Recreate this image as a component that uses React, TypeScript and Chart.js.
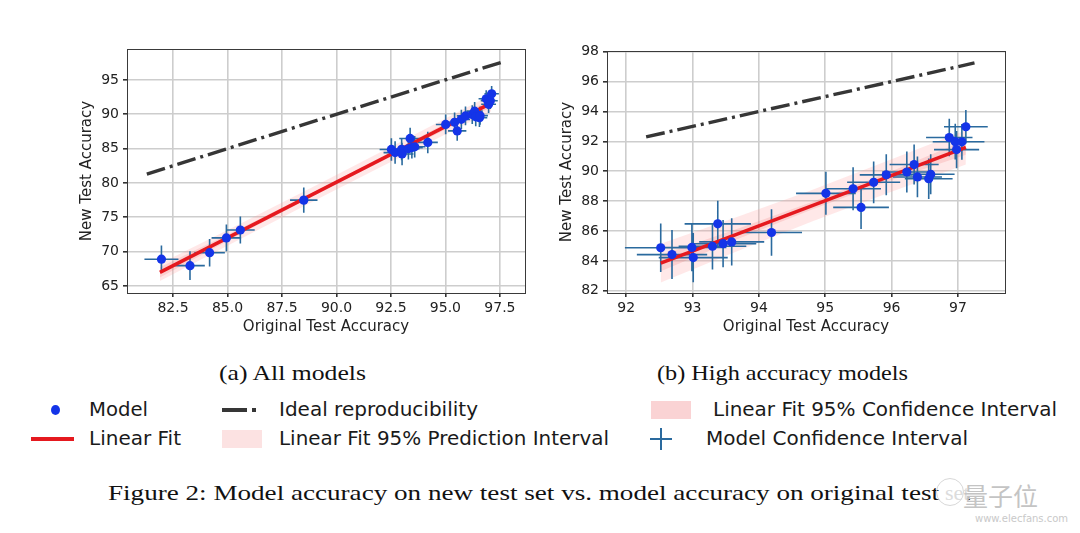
import React, { useEffect, useLayoutEffect, useRef } from 'react';
import { Chart, registerables } from 'chart.js';

Chart.register(...registerables);

// ---------------- data ----------------
// models below 92% original accuracy (only in panel a)
const lowOrigAcc = [81.97, 83.28, 84.18, 84.95, 85.59, 88.5];
const lowNewAcc = [68.9, 67.96, 69.85, 72.0, 73.15, 77.5];
const lowOrigErr = [0.78, 0.68, 0.7, 0.68, 0.66, 0.63];
const lowNewErr = [2.0, 2.1, 2.0, 1.95, 1.95, 1.85];

// high accuracy models (both panels)
const highOrigAcc = [92.52, 92.69, 92.99, 93.01, 93.3, 93.38, 93.46, 93.59, 94.19, 95.01, 95.42, 95.54, 95.73, 95.92, 96.23, 96.34, 96.39, 96.56, 96.59, 96.87, 96.96, 96.98, 97.06, 97.12];
const highNewAcc = [84.88, 84.42, 84.9, 84.22, 84.98, 86.48, 85.15, 85.27, 85.9, 88.52, 88.83, 87.58, 89.26, 89.76, 89.95, 90.45, 89.62, 89.5, 89.8, 92.26, 91.98, 91.45, 91.97, 92.98];
const highOrigErr = [0.54, 0.53, 0.52, 0.52, 0.51, 0.5, 0.5, 0.49, 0.46, 0.45, 0.42, 0.42, 0.4, 0.4, 0.37, 0.37, 0.37, 0.36, 0.36, 0.35, 0.34, 0.34, 0.34, 0.33];
const highNewErr = [1.63, 1.64, 1.6, 1.65, 1.56, 1.55, 1.58, 1.58, 1.56, 1.44, 1.44, 1.45, 1.4, 1.37, 1.37, 1.34, 1.36, 1.35, 1.34, 1.25, 1.2, 1.25, 1.2, 1.12];

// panel a: linear fit and intervals
const fitAllX = [81.9, 97.1];
const fitAllY = [66.98, 91.62];
const bandAllX = [81.9, 85.7, 89.5, 93.3, 97.1];
const predAllLo = [65.73, 72.04, 78.26, 84.37, 90.43];
const predAllHi = [68.23, 74.24, 80.36, 86.57, 92.83];
const confAllLo = [66.23, 72.74, 79.06, 85.12, 91.03];
const confAllHi = [67.73, 73.54, 79.56, 85.82, 92.23];
const idealAllX = [81.3, 97.73];

// panel b: linear fit and intervals
const fitHighX = [92.52, 97.12];
const fitHighY = [83.85, 91.6];
const bandHighX = [92.52, 93.7, 94.8, 96.0, 97.12];
const predHighLo = [82.55, 84.7, 86.64, 88.62, 90.45];
const predHighHi = [85.15, 86.98, 88.74, 90.8, 92.75];
const confHighLo = [83.3, 85.49, 87.44, 89.42, 91.1];
const confHighHi = [84.4, 86.19, 87.94, 90.0, 92.1];
const idealHighX = [92.3, 97.25];

// tick labels
const allXTicks = [82.5, 85, 87.5, 90, 92.5, 95, 97.5];
const allYTicks = [65, 70, 75, 80, 85, 90, 95];
const highXTicks = [92, 93, 94, 95, 96, 97];
const highYTicks = [82, 84, 86, 88, 90, 92, 94, 96, 98];

// ---------------- styles ----------------
const BLUE = '#1434e8';
const ERR = '#2a6a9e';
const RED = '#e5191f';
const IDEAL = '#363636';
const GRID = '#cdcdcd';
const PRED_FILL = 'rgba(255,150,150,0.22)';
const CONF_FILL = 'rgba(240,110,110,0.2)';
const SANS = '"DejaVu Sans", sans-serif';
const SERIF = '"Liberation Serif", "DejaVu Serif", serif';

type Panel = {
  x: number[]; y: number[]; xErr: number[]; yErr: number[];
  fitX: number[]; fitY: number[];
  bandX: number[]; predLo: number[]; predHi: number[]; confLo: number[]; confHi: number[];
  idealX: number[];
  xTicks: number[]; yTicks: number[]; xDec: number;
  xMin: number; xMax: number; yMin: number; yMax: number;
  left: number; w: number; h: number;
  padding: { left: number; right: number; top: number; bottom: number };
  xAxisH: number; yAxisW: number;
};

const panelA: Panel = {
  x: lowOrigAcc.concat(highOrigAcc), y: lowNewAcc.concat(highNewAcc),
  xErr: lowOrigErr.concat(highOrigErr), yErr: lowNewErr.concat(highNewErr),
  fitX: fitAllX, fitY: fitAllY,
  bandX: bandAllX, predLo: predAllLo, predHi: predAllHi, confLo: confAllLo, confHi: confAllHi,
  idealX: idealAllX,
  xTicks: allXTicks, yTicks: allYTicks, xDec: 1,
  xMin: 80.39, xMax: 98.65, yMin: 63.98, yMax: 99.5,
  left: 0, w: 545, h: 345,
  padding: { left: 74, right: 20, top: 49, bottom: 5 },
  xAxisH: 47, yAxisW: 53,
};

const panelB: Panel = {
  x: highOrigAcc, y: highNewAcc, xErr: highOrigErr, yErr: highNewErr,
  fitX: fitHighX, fitY: fitHighY,
  bandX: bandHighX, predLo: predHighLo, predHi: predHighHi, confLo: confHighLo, confHi: confHighHi,
  idealX: idealHighX,
  xTicks: highXTicks, yTicks: highYTicks, xDec: 0,
  xMin: 91.71, xMax: 97.71, yMin: 81.85, yMax: 98.05,
  left: 540, w: 540, h: 345,
  padding: { left: 14, right: 75, top: 51, bottom: 5 },
  xAxisH: 47, yAxisW: 53,
};

function makeErrorBarPlugin(p: Panel) {
  return {
    id: 'errorBars',
    beforeDatasetDraw(chart: any, args: any) {
      if (chart.data.datasets[args.index].label !== 'Linear Fit') return;
      const { ctx, chartArea, scales } = chart;
      const xs = scales.x, ys = scales.y;
      ctx.save();
      ctx.beginPath();
      ctx.rect(chartArea.left, chartArea.top, chartArea.right - chartArea.left, chartArea.bottom - chartArea.top);
      ctx.clip();
      ctx.strokeStyle = ERR;
      ctx.lineWidth = 1.6;
      ctx.beginPath();
      for (let i = 0; i < p.x.length; i++) {
        const cx = xs.getPixelForValue(p.x[i]);
        const cy = ys.getPixelForValue(p.y[i]);
        ctx.moveTo(xs.getPixelForValue(p.x[i] - p.xErr[i]), cy);
        ctx.lineTo(xs.getPixelForValue(p.x[i] + p.xErr[i]), cy);
        ctx.moveTo(cx, ys.getPixelForValue(p.y[i] - p.yErr[i]));
        ctx.lineTo(cx, ys.getPixelForValue(p.y[i] + p.yErr[i]));
      }
      ctx.stroke();
      ctx.restore();
    },
  };
}

const frameBoxPlugin = {
  id: 'frameBox',
  afterDraw(chart: any) {
    const { ctx, chartArea } = chart;
    ctx.save();
    ctx.strokeStyle = '#3a3a3a';
    ctx.lineWidth = 1;
    ctx.strokeRect(Math.round(chartArea.left) + 0.5, Math.round(chartArea.top) + 0.5,
      Math.round(chartArea.right - chartArea.left), Math.round(chartArea.bottom - chartArea.top));
    ctx.restore();
  },
};

function buildConfig(p: Panel): any {
  const band = (ys: number[]) => p.bandX.map((v, i) => ({ x: v, y: ys[i] }));
  const tickFont = { family: SANS, size: 14 };
  const titleFont = { family: SANS, size: 15 };
  const common = {
    type: 'linear',
    border: { display: false },
    grid: { color: GRID, lineWidth: 1.6, drawTicks: true, tickLength: 4, tickColor: '#333' },
  };
  return {
    type: 'line',
    data: {
      datasets: [
        { label: 'predLo', data: band(p.predLo), borderColor: 'transparent', pointRadius: 0, fill: false, order: 6 },
        { label: 'predHi', data: band(p.predHi), borderColor: 'transparent', pointRadius: 0, fill: '-1', backgroundColor: PRED_FILL, order: 5 },
        { label: 'confLo', data: band(p.confLo), borderColor: 'transparent', pointRadius: 0, fill: false, order: 4 },
        { label: 'confHi', data: band(p.confHi), borderColor: 'transparent', pointRadius: 0, fill: '-1', backgroundColor: CONF_FILL, order: 3 },
        {
          label: 'Ideal reproducibility', data: p.idealX.map((v) => ({ x: v, y: v })),
          borderColor: IDEAL, borderWidth: 3.4, borderDash: [19, 5, 3, 5], borderCapStyle: 'butt',
          pointRadius: 0, fill: false, order: 2,
        },
        {
          label: 'Linear Fit', data: p.fitX.map((v, i) => ({ x: v, y: p.fitY[i] })),
          borderColor: RED, borderWidth: 3.5, pointRadius: 0, fill: false, order: 1,
        },
        {
          label: 'Model', data: p.x.map((v, i) => ({ x: v, y: p.y[i] })),
          showLine: false, pointRadius: 4.6, pointBackgroundColor: BLUE, pointBorderColor: BLUE,
          pointBorderWidth: 0, order: 0,
        },
      ],
    },
    options: {
      animation: false,
      responsive: false,
      devicePixelRatio: 1,
      layout: { padding: p.padding },
      plugins: { legend: { display: false }, tooltip: { enabled: false } },
      scales: {
        x: {
          ...common,
          min: p.xMin, max: p.xMax,
          afterBuildTicks: (s: any) => { s.ticks = p.xTicks.map((v) => ({ value: v })); },
          afterFit: (s: any) => { s.height = p.xAxisH; },
          ticks: {
            font: tickFont, color: '#222', padding: 3, maxRotation: 0, autoSkip: false,
            callback: (v: any) => Number(v).toFixed(p.xDec),
          },
          title: { display: true, text: 'Original Test Accuracy', font: titleFont, color: '#222', padding: { top: 4, bottom: 4 } },
        },
        y: {
          ...common,
          min: p.yMin, max: p.yMax,
          afterBuildTicks: (s: any) => { s.ticks = p.yTicks.map((v) => ({ value: v })); },
          afterFit: (s: any) => { s.width = p.yAxisW; },
          ticks: {
            font: tickFont, color: '#222', padding: 4, autoSkip: false,
            callback: (v: any) => String(Number(v)),
          },
          title: { display: true, text: 'New Test Accuracy', font: titleFont, color: '#222', padding: { top: 4, bottom: 4 } },
        },
      },
    },
    plugins: [makeErrorBarPlugin(p), frameBoxPlugin],
  };
}

function ChartPanel({ p }: { p: Panel }) {
  const ref = useRef<HTMLCanvasElement>(null);
  useEffect(() => {
    const chart = new Chart(ref.current as HTMLCanvasElement, buildConfig(p));
    return () => chart.destroy();
  }, []);
  return (
    <canvas ref={ref} width={p.w} height={p.h}
      style={{ position: 'absolute', left: p.left, top: 0, width: p.w, height: p.h }} />
  );
}

function FitText({ left, top, width, style, children }: any) {
  const ref = useRef<HTMLDivElement>(null);
  useLayoutEffect(() => {
    const el = ref.current as HTMLDivElement;
    const fit = () => {
      el.style.transform = 'none';
      const w = el.getBoundingClientRect().width;
      if (w > 0) el.style.transform = `scaleX(${width / w})`;
    };
    fit();
    const f: any = (document as any).fonts;
    if (f && f.ready) f.ready.then(fit);
  }, []);
  return (
    <div ref={ref} style={{
      position: 'absolute', left, top, whiteSpace: 'nowrap', transformOrigin: 'left center', ...style,
    }}>{children}</div>
  );
}

const legendText = { fontFamily: SANS, fontSize: 19.5, lineHeight: '24px', color: '#1a1a1a' };
const captionText = { fontFamily: SERIF, fontSize: 22, lineHeight: '26px', color: '#111' };
const ROW1 = 410;
const ROW2 = 439;

export default function App() {
  return (
    <div style={{ position: 'fixed', left: 0, top: 0, width: 1080, height: 533, background: '#fff', overflow: 'hidden' }}>
      <ChartPanel p={panelA} />
      <ChartPanel p={panelB} />

      <FitText left={219} top={360} width={147} style={{ fontFamily: SERIF, fontSize: 21, lineHeight: '26px', color: '#111' }}>
        (a) All models
      </FitText>
      <FitText left={657} top={360} width={251} style={{ fontFamily: SERIF, fontSize: 21, lineHeight: '26px', color: '#111' }}>
        (b) High accuracy models
      </FitText>

      {/* legend row 1 */}
      <div style={{ position: 'absolute', left: 51, top: ROW1 - 5, width: 9, height: 10, borderRadius: '50%', background: BLUE }} />
      <FitText left={89} top={ROW1 - 12} width={59} style={legendText}>Model</FitText>
      <div style={{ position: 'absolute', left: 222, top: ROW1 - 2, width: 25, height: 4, background: IDEAL }} />
      <div style={{ position: 'absolute', left: 252, top: ROW1 - 2, width: 4, height: 4, background: IDEAL }} />
      <FitText left={279} top={ROW1 - 12} width={199} style={legendText}>Ideal reproducibility</FitText>
      <div style={{ position: 'absolute', left: 651, top: ROW1 - 9, width: 40, height: 18, background: 'rgb(250,211,212)' }} />
      <FitText left={713} top={ROW1 - 12} width={344} style={legendText}>Linear Fit 95% Confidence Interval</FitText>

      {/* legend row 2 */}
      <div style={{ position: 'absolute', left: 31, top: ROW2 - 2, width: 43, height: 4, background: RED }} />
      <FitText left={89} top={ROW2 - 12} width={92} style={legendText}>Linear Fit</FitText>
      <div style={{ position: 'absolute', left: 222, top: ROW2 - 9, width: 40, height: 18, background: 'rgb(252,226,226)' }} />
      <FitText left={279} top={ROW2 - 12} width={330} style={legendText}>Linear Fit 95% Prediction Interval</FitText>
      <div style={{ position: 'absolute', left: 650, top: ROW2 - 1, width: 22, height: 2, background: ERR }} />
      <div style={{ position: 'absolute', left: 660, top: ROW2 - 11, width: 2, height: 22, background: ERR }} />
      <FitText left={706} top={ROW2 - 12} width={262} style={legendText}>Model Confidence Interval</FitText>

      {/* caption */}
      <FitText left={108} top={480} width={831} style={captionText}>
        Figure 2: Model accuracy on new test set vs. model accuracy on original test
      </FitText>
      <div style={{ ...captionText, position: 'absolute', left: 945, top: 480, color: '#dcdcdc' }}>set</div>
      <div style={{ ...captionText, position: 'absolute', left: 966, top: 480 }}>.</div>

      {/* watermark */}
      <div style={{ position: 'absolute', left: 936, top: 478, width: 26, height: 26, borderRadius: '50%', border: '1.5px solid #d8d8d8' }} />
      <div style={{ position: 'absolute', left: 963, top: 480, fontFamily: '"Noto Sans CJK SC", sans-serif', fontSize: 25, lineHeight: '30px', color: '#c4c4c4' }}>量子位</div>
      <div style={{ position: 'absolute', left: 975, top: 513, fontFamily: SANS, fontSize: 10, lineHeight: '12px', color: '#c9c9c9' }}>www.elecfans.com</div>
    </div>
  );
}
